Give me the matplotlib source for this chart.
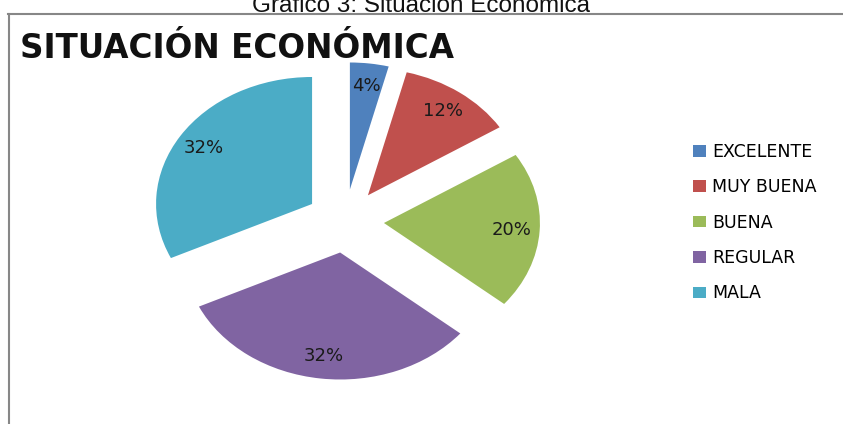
import matplotlib.pyplot as plt
from matplotlib.lines import Line2D

categories = ['EXCELENTE', 'MUY BUENA', 'BUENA', 'REGULAR', 'MALA']
values = [4, 12, 20, 32, 32]
colors = ['#4F81BD', '#C0504D', '#9BBB59', '#8064A2', '#4BACC6']

W, H = 843, 424
fig = plt.figure(figsize=(W / 100, H / 100), dpi=100)

# pie is drawn stretched horizontally like the original picture
cx, cy = 345, H - 221
rx, ry = 156, 127
lim = 1.6
ax = fig.add_axes([(cx - lim * rx) / W, (cy - lim * ry) / H,
                   2 * lim * rx / W, 2 * lim * ry / H])
wedges, texts, autotexts = ax.pie(values, colors=colors, startangle=90,
                                  counterclock=False, explode=[0.25] * 5,
                                  autopct='%1.0f%%', pctdistance=0.82,
                                  textprops={'fontsize': 13, 'color': '#1a1a1a',
                                             'family': 'DejaVu Sans'})
ax.set_aspect('auto')
ax.set_xlim(-lim, lim)
ax.set_ylim(-lim, lim)
ax.axis('off')

ax.legend(wedges, categories, loc='upper left',
          bbox_to_anchor=(693 / W, 1 - 143 / H), bbox_transform=fig.transFigure,
          frameon=False, borderpad=0, borderaxespad=0,
          handlelength=0.75, handleheight=0.65, handletextpad=0.35,
          labelspacing=1.0, prop={'family': 'DejaVu Sans', 'size': 12.5})

# chart title and caption
fig.text(20 / W, 1 - 58 / H, 'SITUACIÓN ECONÓMICA', fontsize=23.5,
         fontweight='bold', family='DejaVu Sans', color='#111111',
         ha='left', va='baseline')
fig.text(0.5, 1 - 12 / H, 'Gráfico 3: Situación Económica', fontsize=17.5,
         family='Liberation Sans', color='#111111', ha='center', va='baseline')

# frame around the chart (only top and left visible)
fig.add_artist(Line2D([8 / W, 1], [1 - 14 / H, 1 - 14 / H],
                      transform=fig.transFigure, color='#878787', lw=1.5))
fig.add_artist(Line2D([9 / W, 9 / W], [0, 1 - 14 / H],
                      transform=fig.transFigure, color='#878787', lw=1.5))

fig.savefig('out.png', dpi=100)
